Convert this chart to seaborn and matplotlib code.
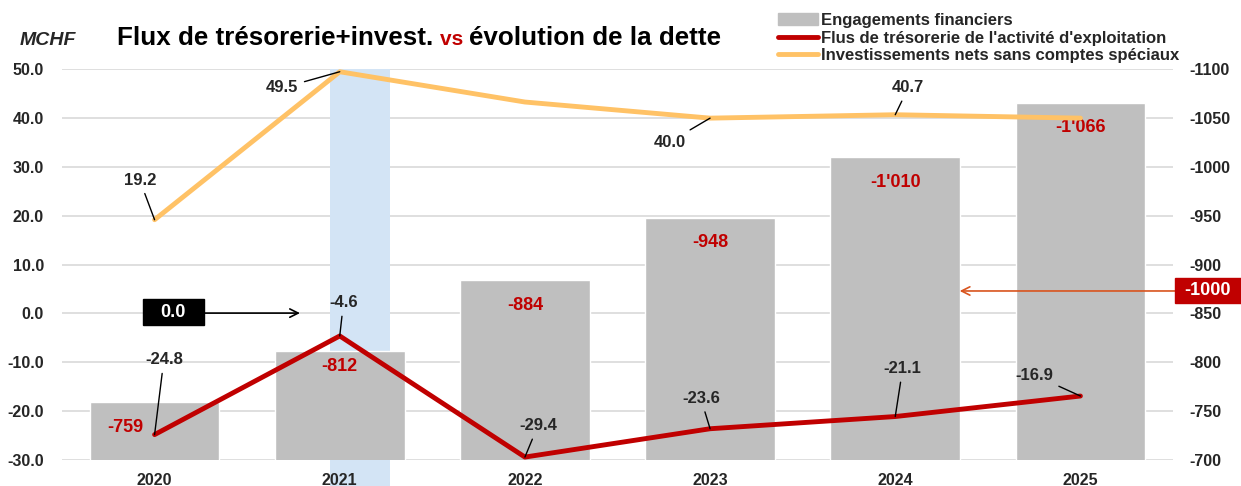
import matplotlib
matplotlib.use("Agg")
from matplotlib import pyplot as plt
from matplotlib.patches import Patch, Rectangle
from matplotlib.lines import Line2D
import matplotlib.transforms as mtransforms
import pandas as pd
import seaborn as sns

years = ['2020', '2021', '2022', '2023', '2024', '2025']
engagements = [-759, -812, -884, -948, -1010, -1066]
flux_exploitation = [-24.8, -4.6, -29.4, -23.6, -21.1, -16.9]
invest_nets = [19.2, 49.5, 43.3, 40.0, 40.7, 40.0]
bar_labels = ["-759", "-812", "-884", "-948", "-1'010", "-1'066"]

RED = '#C00000'
ORANGE = '#FFC266'
GREY = '#BFBFBF'
BLUE = '#D3E4F5'

sns.set_style('white')
plt.rcParams['font.family'] = ['Liberation Sans', 'DejaVu Sans']
plt.rcParams['font.weight'] = 'bold'
plt.rcParams['axes.unicode_minus'] = False

df = pd.DataFrame({'year': years, 'eng': engagements,
                   'flux': flux_exploitation, 'inv': invest_nets})

fig = plt.figure(figsize=(12.41, 4.86), dpi=100)
ax = fig.add_axes([62 / 1241, 26 / 486, 1111 / 1241, 390.7 / 486])

# bars on primary axis (right side ticks), lines on twin (left side ticks)
sns.barplot(x='year', y='eng', data=df, color=GREY, width=0.7,
            saturation=1, ax=ax, zorder=3)
ax.set_ylim(-700, -1100)
ax.set_xlim(-0.5, 5.5)
ax.set_yticks([-700, -750, -800, -850, -900, -950, -1000, -1050, -1100])
ax.set_axisbelow(True)
ax.grid(axis='y', color='#D9D9D9', lw=1.2)
ax.set_xlabel('')
ax.set_ylabel('')

# highlight for 2021: above the bar and below the axis
hl = 1
ax.add_patch(Rectangle((0.95, -1100), 0.32, engagements[hl] + 1100,
                       facecolor=BLUE, edgecolor='none', zorder=1))
trans = mtransforms.blended_transform_factory(ax.transData, ax.transAxes)
ax.add_patch(Rectangle((0.95, -0.07), 0.32, 0.07, transform=trans,
                       facecolor=BLUE, edgecolor='none', clip_on=False, zorder=1))

for i, (v, lab) in enumerate(zip(engagements, bar_labels)):
    dx = -0.16 if i == 0 else 0
    dy = -16 if i == 1 else -25
    ax.annotate(lab, (i + dx, v), xytext=(0, dy * 0.72), textcoords='offset points',
                ha='center', va='center', color=RED, fontsize=13,
                fontweight='bold', zorder=4)

ax2 = ax.twinx()
ax2.yaxis.tick_left()
ax.yaxis.tick_right()
sns.lineplot(x='year', y='flux', data=df, color=RED, lw=3.5, ax=ax2,
             sort=False, zorder=4)
sns.lineplot(x='year', y='inv', data=df, color=ORANGE, lw=3.5, ax=ax2,
             sort=False, zorder=4)
ax2.set_ylim(-30, 50)
ax2.set_yticks(range(-30, 51, 10))
ax2.set_yticklabels([f'{t:.1f}' for t in range(-30, 51, 10)])
ax2.set_xlim(-0.5, 5.5)
ax2.set_xlabel('')
ax2.set_ylabel('')
# year labels from the twin so they sit above the highlight band
ax2.xaxis.set_visible(True)
ax2.tick_params(axis='x', labelbottom=True, bottom=True, pad=9)
ax.tick_params(axis='x', labelbottom=False)

for a in (ax, ax2):
    for s in a.spines.values():
        s.set_visible(False)
    a.tick_params(length=0, labelsize=11.5)
ax.tick_params(axis='y', pad=12)
ax2.tick_params(axis='y', pad=13)

# data labels with leader lines (text position in data units)
inv_text = [(-0.08, 27.3), (0.69, 46.2), None, (2.78, 35.1), (4.07, 46.2), None]
flux_text = [(0.05, -9.5), (1.02, 2.2), (2.07, -23.0), (2.95, -17.4),
             (4.04, -11.3), (4.75, -12.6)]
for vals, pos in ((invest_nets, inv_text), (flux_exploitation, flux_text)):
    for i, (v, p) in enumerate(zip(vals, pos)):
        if p is None:
            continue
        ax2.annotate(f'{v:.1f}', (i, v), xytext=p, textcoords='data',
                     ha='center', va='center', fontsize=12, fontweight='bold',
                     zorder=5,
                     arrowprops=dict(arrowstyle='-', color='black', lw=1,
                                     shrinkA=2, shrinkB=0))

# black "0.0" box and arrow
ax2.add_patch(Rectangle((0.0729, 0.3455), 0.0549, 0.0665, transform=ax2.transAxes,
                        fc='black', ec='black', zorder=6, clip_on=False))
ax2.text(0.1003, 0.3788, '0.0', transform=ax2.transAxes, ha='center', va='center',
         color='white', fontsize=13, fontweight='bold', zorder=7)
ax2.annotate('', xy=(0.2142, 0.376), xytext=(0.1278, 0.376),
             xycoords='axes fraction', textcoords='axes fraction',
             arrowprops=dict(arrowstyle='->', color='black', lw=1.2,
                             mutation_scale=15, shrinkA=0, shrinkB=0))

# red "-1000" box and arrow
ax2.add_patch(Rectangle((1.0018, 0.4018), 0.0594, 0.064, transform=ax2.transAxes,
                        fc=RED, ec=RED, zorder=6, clip_on=False))
ax2.text(1.0315, 0.4338, '-1000', transform=ax2.transAxes, ha='center',
         va='center', color='white', fontsize=13, fontweight='bold', zorder=7,
         clip_on=False)
ax2.annotate('', xy=(0.808, 0.4326), xytext=(1.0018, 0.4326),
             xycoords='axes fraction', textcoords='axes fraction',
             arrowprops=dict(arrowstyle='->', color='#D9541E', lw=1.2,
                             mutation_scale=15, shrinkA=0, shrinkB=0),
             annotation_clip=False)

# title
fig.text(20 / 1241, 1 - 45 / 486, 'MCHF', fontsize=14, fontstyle='italic',
         fontweight='bold', va='baseline')
renderer = fig.canvas.get_renderer()
x0 = 117 / 1241
ty = 1 - 45 / 486
parts = [('Flux de trésorerie+invest. ', 'black', 18.7),
         ('vs ', RED, 15),
         ('évolution de la dette', 'black', 18.7)]
for txt, col, fs in parts:
    t = fig.text(x0, ty, txt, fontsize=fs, color=col, fontweight='bold',
                 va='baseline', ha='left')
    bb = t.get_window_extent(renderer=renderer)
    x0 = bb.x1 / fig.bbox.width

handles = [Patch(color=GREY),
           Line2D([0], [0], color=RED, lw=3.5),
           Line2D([0], [0], color=ORANGE, lw=3.5)]
labels = ['Engagements financiers',
          "Flus de trésorerie de l'activité d'exploitation",
          'Investissements nets sans comptes spéciaux']
fig.legend(handles, labels, loc='upper left', bbox_to_anchor=(778 / 1241, 1 - 13 / 486),
           frameon=False, handlelength=2.4, handletextpad=0.2,
           labelspacing=0.15, borderaxespad=0, borderpad=0,
           prop={'weight': 'bold', 'size': 12})

fig.savefig('out.png', dpi=100)
